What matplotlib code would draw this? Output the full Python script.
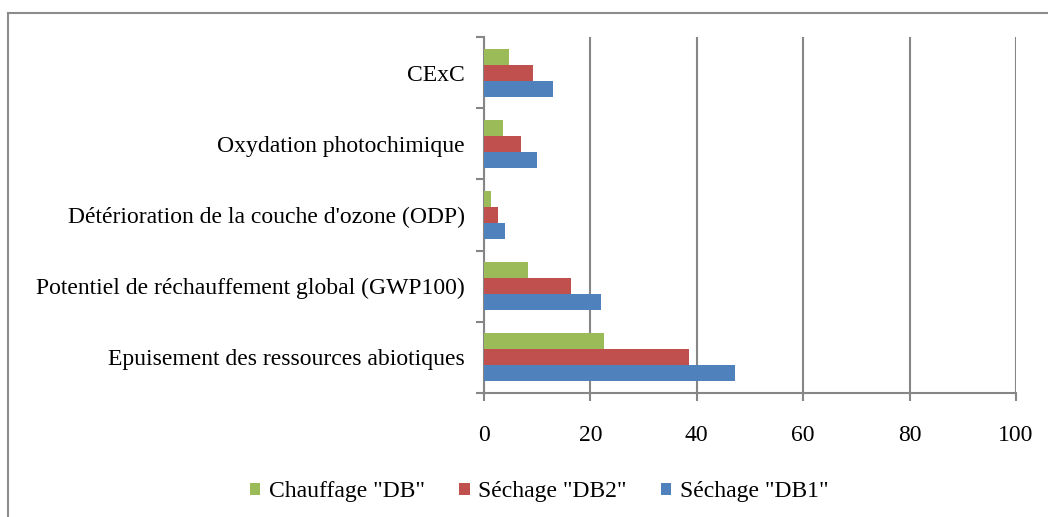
import matplotlib
matplotlib.use("Agg")
import matplotlib.pyplot as plt
from matplotlib.lines import Line2D
import numpy as np

categories = ["Epuisement des ressources abiotiques",
              "Potentiel de réchauffement global (GWP100)",
              "Détérioration de la couche d'ozone (ODP)",
              "Oxydation photochimique",
              "CExC"]
series_names = ['Séchage "DB1"', 'Séchage "DB2"', 'Chauffage "DB"']
db1 = [47.1, 21.9, 3.9, 9.9, 12.9]
db2 = [38.5, 16.3, 2.6, 6.9, 9.3]
chauffage = [22.6, 8.2, 1.3, 3.6, 4.7]
colors = ["#4F81BD", "#C0504D", "#9BBB59"]
xticks = [0, 20, 40, 60, 80, 100]

plt.rcParams['font.family'] = ['Liberation Serif', 'DejaVu Serif']
FS = 17

fig = plt.figure(figsize=(10.48, 5.17), dpi=100)
ax = fig.add_axes([484/1048, 1-393/517, (1016-484)/1048, (393-37)/517])

y = np.arange(len(categories))
h = 0.224
for i, (vals, name, c) in enumerate(zip([db1, db2, chauffage], series_names, colors)):
    ax.barh(y + (i-1)*h, vals, height=h, color=c, label=name, zorder=3)

ax.set_xlim(0, 100)
ax.set_ylim(-0.5, len(categories)-0.5)
ax.set_xticks(xticks)
ax.set_yticks(y)
ax.set_yticklabels(categories)
ax.set_yticks(np.arange(-0.5, len(categories), 1), minor=True)
ax.tick_params(axis='y', which='major', length=0, pad=14, labelsize=FS)
ax.tick_params(axis='y', which='minor', length=6, width=1.5, color='#868686', direction='out')
ax.tick_params(axis='x', length=6, width=1.5, color='#868686', pad=17, labelsize=FS)
ax.grid(axis='x', color='#868686', linewidth=1.5, zorder=0)
for s in ['top', 'right']:
    ax.spines[s].set_visible(False)
for s in ['left', 'bottom']:
    ax.spines[s].set_color('#868686')
    ax.spines[s].set_linewidth(1.5)

handles, labels = ax.get_legend_handles_labels()
order = [2, 1, 0]
leg = fig.legend([handles[i] for i in order], [labels[i] for i in order],
                 loc='center', bbox_to_anchor=(539/1048, 1-492/517), ncol=3,
                 frameon=False, fontsize=FS, handlelength=0.45, handleheight=0.45,
                 handletextpad=0.35, columnspacing=1.45)

fig.add_artist(Line2D([7.5/1048, 7.5/1048], [0, 1-12.5/517], transform=fig.transFigure,
                      color='#8c8c8c', linewidth=1.5))
fig.add_artist(Line2D([7.5/1048, 1], [1-12.5/517, 1-12.5/517], transform=fig.transFigure,
                      color='#8c8c8c', linewidth=1.5))

fig.savefig("out.png", dpi=100)
